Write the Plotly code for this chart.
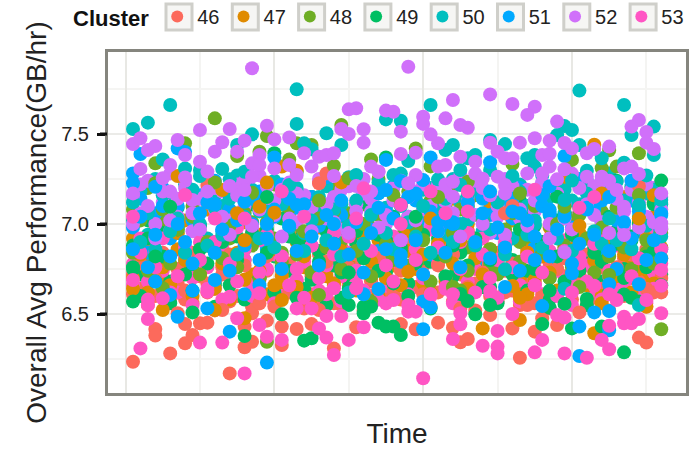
import plotly.graph_objects as go

CLUSTERS = ["46", "47", "48", "49", "50", "51", "52", "53"]
COLORS = ["#FC6A5C", "#E08B00", "#6FAE25", "#00BF63", "#00BFBF", "#00A9FF", "#D070FA", "#FF55C4"]
SLOTS = list(range(1, 73))
Y_TICKS = [6.5, 7.0, 7.5]

BASE_46 = [6.72,6.64,6.88,6.60,6.79,6.93,6.67,6.58,6.84,6.71,6.62,6.90,6.76,6.57,6.81,6.69,6.95,6.63,6.74,6.86,6.59,6.78,6.68,6.92,6.61,6.83,6.73,6.56,6.87,6.66,6.80,6.94,6.60,6.75,6.70,6.85,6.58,6.91,6.65,6.77,6.82,6.62,6.89,6.57,6.72,6.96,6.67,6.80,6.60,6.84,6.74,6.63,6.93,6.69,6.56,6.87,6.78,6.61,6.71,6.90,6.66,6.83,6.59,6.76,6.94,6.64,6.81,6.70,6.57,6.86,6.73,6.62]
BASE_47 = [6.92,7.05,6.78,6.99,6.70,7.12,6.86,7.02,6.74,6.95,7.08,6.68,6.89,7.15,6.81,7.01,6.72,6.94,7.10,6.84,6.66,7.04,6.90,6.76,7.13,6.98,6.71,6.87,7.06,6.80,6.96,7.16,6.69,6.91,7.03,6.77,7.11,6.85,6.97,6.67,7.07,6.83,6.93,7.14,6.73,7.00,6.88,6.65,7.09,6.79,6.95,7.02,6.70,6.86,7.12,6.82,6.98,6.75,7.05,6.90,6.68,7.10,6.84,7.00,6.74,6.92,7.15,6.80,6.96,6.71,7.04,6.87]
BASE_48 = [7.08,6.90,7.20,6.82,7.02,7.14,6.95,6.78,7.10,6.99,7.24,6.86,7.05,6.92,7.17,6.80,7.01,7.12,6.94,7.22,6.84,7.07,6.97,6.88,7.15,7.03,6.79,7.19,6.91,7.06,6.85,7.11,6.98,7.25,6.83,7.04,6.93,7.18,7.00,6.81,7.13,6.89,7.09,7.21,6.96,6.87,7.16,7.02,6.77,7.08,6.94,7.23,6.90,7.05,6.82,7.14,6.99,7.19,6.86,7.03,6.92,7.11,6.80,7.07,7.17,6.95,6.88,7.20,7.01,6.84,7.12,6.97]
BASE_49 = [6.88,6.72,7.02,6.80,6.95,6.68,7.09,6.84,6.75,6.99,6.90,6.66,7.05,6.78,6.93,6.86,7.11,6.70,6.97,6.82,7.03,6.74,6.91,6.64,7.07,6.85,6.96,6.77,7.00,6.69,6.89,7.12,6.81,6.94,6.73,7.04,6.87,6.67,6.98,7.08,6.79,6.92,7.01,6.71,6.84,7.10,6.76,6.95,6.65,7.06,6.88,6.80,7.13,6.74,6.99,6.90,6.70,7.02,6.83,6.94,7.09,6.78,6.87,6.68,7.04,6.96,6.75,6.91,7.00,6.82,7.11,6.72]
BASE_50 = [7.02,7.18,6.94,7.25,7.08,7.13,6.98,7.22,7.05,7.30,6.92,7.16,7.10,6.96,7.27,7.03,7.19,7.07,6.90,7.24,7.12,7.00,7.29,6.95,7.15,7.06,7.21,6.93,7.11,7.26,7.01,7.17,6.97,7.23,7.09,6.91,7.28,7.04,7.14,6.99,7.20,7.08,6.94,7.25,7.12,7.02,7.18,6.96,7.30,7.06,7.16,6.92,7.22,7.10,7.00,7.27,7.05,6.97,7.19,7.13,6.93,7.24,7.08,7.01,7.28,7.15,6.98,7.21,7.04,7.17,6.95,7.11]
BASE_51 = [6.98,7.14,6.84,7.06,7.20,6.92,7.10,6.80,7.02,7.16,6.88,7.24,6.96,7.08,6.78,7.12,7.00,7.18,6.86,7.04,7.22,6.94,7.09,6.82,7.15,6.99,7.26,6.90,7.05,6.76,7.11,7.19,6.97,6.85,7.07,7.21,6.91,7.03,7.13,7.04,6.83,7.17,7.01,6.93,7.23,7.08,6.79,7.14,7.05,6.95,7.10,7.03,7.20,7.00,6.87,7.16,7.06,6.81,7.12,6.98,7.25,6.92,7.09,6.84,7.18,7.02,6.89,7.13,6.96,7.21,7.00,6.86]
BASE_52 = [7.16,7.06,7.24,7.00,7.12,7.28,7.04,7.20,6.96,7.14,7.26,7.08,7.18,7.02,7.22,7.10,6.98,7.27,7.13,7.05,7.19,7.23,7.01,7.16,7.09,7.25,7.03,7.15,6.97,7.21,7.11,7.17,7.07,7.29,7.00,7.13,7.24,7.04,7.18,7.08,6.99,7.22,7.12,7.02,7.27,7.15,7.05,7.20,6.95,7.10,7.25,7.14,7.03,7.19,7.07,7.23,7.00,7.16,7.11,7.28,7.06,7.13,7.21,7.01,7.17,7.09,6.98,7.24,7.12,7.04,7.20,7.08]
BASE_53 = [6.78,6.92,6.68,6.85,6.74,6.96,6.62,6.82,6.70,6.90,6.76,6.64,6.87,6.72,6.98,6.80,6.66,6.91,6.75,6.83,6.60,6.94,6.69,6.79,6.88,6.63,6.77,6.95,6.71,6.84,6.67,6.89,6.73,6.81,6.65,6.93,6.76,6.61,6.86,6.70,6.97,6.78,6.64,6.83,6.90,6.68,6.75,6.92,6.62,6.80,6.87,6.72,6.66,6.95,6.79,6.61,6.85,6.74,6.91,6.69,6.82,6.77,6.63,6.94,6.71,6.88,6.67,6.84,6.60,6.96,6.73,6.78]

LATER_46 = [6.61,6.78,6.55,6.70,6.84,6.58,6.75,6.63,6.56,6.80,6.67,6.52,6.72,6.83,6.60,6.77,6.54,6.69,6.82,6.57,6.74,6.62,6.85,6.53,6.71,6.59,6.79,6.66,6.55,6.76,6.83,6.52,6.68,6.81,6.58,6.63,6.74,6.56,6.80,6.61,6.54,6.77,6.70,6.83,6.59,6.65,6.52,6.73,6.82,6.57,6.62,6.78,6.55,6.84,6.67,6.60,6.53,6.75,6.81,6.58,6.72,6.55,6.79,6.64,6.52,6.76,6.60,6.83,6.68,6.54,6.80,6.70]
LATER_47 = [6.70,6.83,6.62,6.91,6.76,6.66,6.95,6.80,6.60,6.72,6.88,6.64,6.78,6.58,6.84,6.69,6.92,6.74,6.61,6.86,6.71,6.94,6.65,6.82,6.59,6.77,6.90,6.67,6.85,6.73,6.63,6.93,6.79,6.60,6.70,6.87,6.66,6.96,6.75,6.83,6.62,6.89,6.68,6.78,6.91,6.64,6.81,6.72,6.86,6.59,6.94,6.76,6.61,6.84,6.69,6.90,6.73,6.63,6.87,6.77,6.95,6.66,6.80,6.60,6.88,6.71,6.83,6.62,6.75,6.92,6.67,6.81]
LATER_48 = [6.84,7.02,6.74,6.93,7.08,6.78,6.97,6.86,7.04,6.72,6.90,7.10,6.81,6.99,6.76,7.06,6.88,6.70,7.01,6.92,6.79,7.09,6.83,6.96,6.73,7.03,6.87,7.07,6.75,6.94,6.85,7.00,6.71,7.05,6.89,6.80,7.11,6.77,6.98,6.91,6.68,7.04,6.82,6.95,7.08,6.74,6.90,7.02,6.86,6.72,6.97,7.06,6.79,6.93,7.10,6.84,6.70,7.00,6.88,6.76,7.05,6.92,6.73,6.98,6.82,7.09,6.87,6.75,7.03,6.91,6.78,6.95]
LATER_49 = [6.75,6.60,6.92,6.68,6.82,6.56,6.97,6.72,6.63,6.86,6.78,6.54,6.90,6.66,6.80,6.58,6.95,6.70,6.84,6.62,6.76,6.93,6.59,6.87,6.69,6.79,6.55,6.89,6.73,6.64,6.96,6.81,6.57,6.74,6.91,6.67,6.85,6.60,6.78,6.94,6.53,6.83,6.71,6.88,6.61,6.77,6.92,6.65,6.80,6.56,6.86,6.72,6.97,6.63,6.75,6.90,6.58,6.82,6.68,6.94,6.74,6.55,6.84,6.79,6.62,6.89,6.70,6.93,6.57,6.76,6.85,6.66]
LATER_50 = [7.12,6.90,7.06,6.86,7.16,6.96,7.03,6.84,7.19,7.00,6.88,7.09,6.94,7.14,6.83,7.04,7.18,6.92,7.07,6.87,7.11,6.98,7.20,6.85,7.02,7.15,6.91,7.08,6.82,6.99,7.13,6.89,7.05,7.17,6.95,6.86,7.10,7.01,6.93,7.19,6.84,7.06,7.14,6.90,7.00,7.16,6.88,7.04,6.97,7.12,6.83,7.08,7.18,6.94,7.02,6.87,7.15,6.92,7.06,6.85,7.11,7.17,6.96,6.89,7.03,6.91,7.13,6.86,7.09,6.99,7.19,6.93]
LATER_51 = [6.86,7.04,6.76,6.94,7.10,6.82,7.00,6.90,6.78,7.06,7.12,6.84,6.97,6.74,7.02,6.88,7.14,6.80,6.92,7.08,6.75,6.99,6.85,7.11,6.93,6.77,7.05,6.89,7.13,6.83,7.01,6.73,6.95,7.09,6.86,7.03,6.79,7.15,6.91,6.72,7.07,6.96,6.84,7.00,6.76,7.12,6.90,7.06,6.81,6.98,6.87,7.14,6.74,7.02,6.93,7.10,6.82,6.97,7.04,6.78,6.89,7.08,6.94,7.13,6.85,6.75,7.01,6.92,7.07,6.80,6.91,7.05]
LATER_52 = [7.00,7.22,7.10,6.92,7.18,7.02,7.14,7.24,7.06,6.97,7.12,7.20,7.04,6.94,7.16,7.24,6.99,7.08,7.21,7.13,6.93,7.03,7.17,7.09,6.96,7.23,7.11,7.01,7.19,6.95,7.07,7.25,7.14,6.98,7.05,7.20,6.91,7.15,7.02,7.22,7.10,6.96,7.18,7.06,6.93,7.12,7.24,7.00,7.16,7.04,6.94,7.21,7.08,6.99,7.13,7.23,6.92,7.17,7.03,6.97,7.20,7.11,7.05,7.24,6.95,7.14,7.07,7.19,6.98,7.22,7.01,7.15]
LATER_53 = [6.66,6.84,6.58,6.76,6.92,6.62,6.71,6.87,6.55,6.80,6.64,6.90,6.58,6.78,6.68,6.86,6.60,6.73,6.94,6.56,6.82,6.66,6.75,6.59,6.88,6.70,6.61,6.83,6.57,6.93,6.74,6.63,6.85,6.58,6.77,6.68,6.91,6.55,6.80,6.72,6.60,6.87,6.65,6.56,6.75,6.95,6.62,6.83,6.70,6.59,6.90,6.76,6.57,6.82,6.66,6.73,6.92,6.60,6.85,6.55,6.78,6.68,6.89,6.58,6.74,6.62,6.94,6.71,6.81,6.56,6.64,6.86]

EDGE_T_46 = [1,4,4,6,8,8,9,10,11,13,14,16,17,17,16,19,18,21,21,23,25,26,28,31,20,7,42,37,39,44,45,46,52,53,55,58,61,69,70,54,49,70,71,45,56,11,26,27,69,52,51]
EDGE_V_46 = [6.235,6.417,6.38,6.281,6.444,6.337,6.383,6.448,6.452,6.522,6.17,6.315,6.346,6.504,6.43,6.463,6.559,6.43,6.328,6.417,6.444,6.522,6.309,6.426,6.541,6.504,6.452,6.444,6.415,6.424,6.343,6.361,6.42,6.257,6.402,6.439,6.509,6.369,6.341,6.55,6.494,6.64,6.62,6.53,6.476,7.217,7.226,7.281,7.211,7.1,7.06]
EDGE_T_47 = [5,12,16,21,20,1,16,48,53,52,54,53,63,70,64,38,7,21,23,19,29,13,18,20,15,59,63,64,71,41,69,61]
EDGE_V_47 = [6.522,6.522,6.476,6.578,6.66,6.64,6.91,6.42,6.467,6.656,6.61,6.59,6.393,6.541,6.56,6.735,7.267,7.319,7.296,7.23,7.231,7.189,7.096,7.063,7.06,7.263,7.44,7.17,7.16,7.03,7.03,6.99]
EDGE_T_48 = [12,8,19,23,18,22,15,25,28,29,12,33,4,17,4,30,26,39,60,69,65,66,64,52,41,53,42,36,69,59,46,19,5,26,33,72,65,45,44,61]
EDGE_V_48 = [7.587,7.448,7.489,7.448,7.402,7.359,7.378,7.439,7.324,7.55,7.231,7.359,7.337,7.174,7.226,7.254,7.13,7.42,7.356,7.393,7.41,7.319,7.31,7.333,7.32,7.17,7.15,7.161,7.161,7.096,7.235,6.346,6.643,6.606,6.569,6.415,6.717,6.63,6.65,6.65]
EDGE_T_49 = [20,35,19,6,72,66,58,39,1,9,21,16,24,25,34,32,32,30,33,29,35,30,1,4,37,67,56,60,62,57,59,46,45,49,47,64,67,36,57,68]
EDGE_V_49 = [7.393,7.37,7.15,7.096,7.241,7.24,7.152,7.04,6.569,6.509,6.498,6.378,6.352,6.365,6.452,6.504,6.54,6.55,6.541,6.59,6.43,6.73,6.76,6.82,6.383,6.287,6.444,6.42,6.583,6.535,6.556,6.572,6.611,6.55,6.498,6.43,6.609,6.43,6.63,6.59]
EDGE_T_50 = [1,3,6,23,23,17,27,29,35,5,13,24,25,16,14,22,31,8,10,15,41,61,67,71,68,37,59,60,58,51,49,61,44,43,64,71,38,47,46,45,54,55,55,52,36,60,42,62,70,66,45,69,72,40,59,67,30,69,51,59]
EDGE_V_50 = [7.528,7.563,7.661,7.748,7.556,7.498,7.504,7.439,7.581,7.359,7.306,7.448,7.415,7.29,7.248,7.217,7.272,7.309,7.267,7.439,7.661,7.741,7.661,7.541,7.494,7.574,7.544,7.522,7.494,7.444,7.467,7.439,7.439,7.411,7.365,7.383,7.35,7.383,7.365,7.3,7.365,7.383,7.319,7.267,7.272,7.241,7.248,7.296,7.27,7.235,7.217,7.106,7.133,7.1,7.133,7.34,6.62,6.55,6.748,6.64]
EDGE_T_51 = [2,7,8,1,1,4,35,16,23,22,12,35,34,20,19,28,49,41,59,37,40,49,68,57,56,39,62,72,52,53,57,65,44,42,6,7,14,19,11,16,34,32,4,12,9,18,40,41,40,61,61,63,65,65,51,56,65,69,60,55,37,72]
EDGE_V_51 = [7.389,7.42,7.4,7.281,7.226,7.207,7.356,7.124,7.106,7.14,7.11,7.189,7.17,7.37,7.0,7.0,7.343,7.37,7.378,7.239,7.244,7.18,7.24,7.21,7.16,7.17,7.09,7.059,7.07,7.06,7.08,7.15,7.01,7.01,6.606,6.485,6.402,6.23,6.531,6.61,6.639,6.61,6.68,6.689,6.63,6.66,6.415,6.537,6.57,6.43,6.267,6.509,6.517,6.41,6.65,6.544,6.665,6.665,6.726,6.8,6.828,6.809]
EDGE_T_52 = [1,2,3,4,17,10,14,19,7,13,16,20,22,12,15,8,18,10,6,5,2,11,17,18,17,8,20,22,23,25,24,26,27,28,29,30,31,32,30,32,35,28,14,1,33,34,31,33,6,9,11,16,38,44,49,52,55,54,58,69,68,43,40,40,45,46,37,41,70,42,49,53,55,57,59,70,71,65,62,63,60,37,39,45,47,50,51,52,56,57,42,43,57,59,67,68,69,47,48,50,51,51,54,56,58,62,64,65,66,67,72,72,39,38,43,44,44,36,59,67,72]
EDGE_V_52 = [7.444,7.476,7.411,7.433,7.865,7.522,7.528,7.546,7.467,7.454,7.463,7.47,7.481,7.402,7.402,7.383,7.383,7.346,7.328,7.254,7.306,7.291,7.337,7.328,7.263,7.259,7.309,7.328,7.272,7.319,7.393,7.374,7.383,7.393,7.528,7.637,7.643,7.526,7.5,7.452,7.63,7.267,7.211,7.17,7.319,7.29,7.211,7.18,7.18,7.133,7.18,7.189,7.874,7.689,7.72,7.667,7.652,7.606,7.569,7.578,7.541,7.587,7.596,7.556,7.55,7.535,7.513,7.498,7.511,7.448,7.452,7.452,7.476,7.463,7.45,7.452,7.417,7.43,7.393,7.417,7.42,7.389,7.396,7.374,7.346,7.402,7.365,7.365,7.383,7.39,7.319,7.328,7.319,7.304,7.309,7.319,7.278,7.28,7.252,7.263,7.217,7.17,7.281,7.28,7.248,7.263,7.263,7.24,7.189,7.096,7.17,7.004,7.272,7.226,7.22,7.235,7.152,7.624,6.843,6.939,6.976]
EDGE_T_53 = [2,3,3,10,13,15,16,19,21,27,27,26,28,30,29,32,23,25,18,5,14,11,35,31,28,1,18,40,48,50,50,50,55,56,59,62,64,65,65,67,67,68,69,72,45,45,44,58,59,52,38,39,70,72,72,49,41,63,60,65,66,55,44,36,8,21,32,31,24,1,16,12,46,37,43,41,55,46,63,61,37]
EDGE_V_53 = [6.309,6.472,6.55,6.341,6.341,6.476,6.17,6.374,6.356,6.489,6.369,6.42,6.272,6.356,6.489,6.426,6.531,6.531,6.615,6.587,6.596,6.624,6.559,6.643,6.643,6.689,6.439,6.143,6.324,6.319,6.281,6.406,6.287,6.356,6.281,6.257,6.356,6.304,6.435,6.485,6.448,6.448,6.472,6.504,6.504,6.443,6.361,6.494,6.48,6.5,6.513,6.513,6.578,6.657,6.745,6.628,6.611,6.657,6.62,6.61,6.578,6.66,6.61,6.578,7.161,7.18,7.198,7.03,7.04,7.04,7.03,7.03,7.18,7.106,7.06,7.18,7.19,7.07,7.15,7.09,7.0]

BASES = [BASE_46, BASE_47, BASE_48, BASE_49, BASE_50, BASE_51, BASE_52, BASE_53]
LATERS = [LATER_46, LATER_47, LATER_48, LATER_49, LATER_50, LATER_51, LATER_52, LATER_53]
EDGES_T = [EDGE_T_46, EDGE_T_47, EDGE_T_48, EDGE_T_49, EDGE_T_50, EDGE_T_51, EDGE_T_52, EDGE_T_53]
EDGES_V = [EDGE_V_46, EDGE_V_47, EDGE_V_48, EDGE_V_49, EDGE_V_50, EDGE_V_51, EDGE_V_52, EDGE_V_53]

W, H = 698, 449
L, R, T, B = 108, 686, 52, 393


def scatter(i, xs, ys, legend):
    return go.Scatter(
        x=xs, y=ys, mode="markers", name=CLUSTERS[i], legendgroup=CLUSTERS[i], showlegend=legend,
        marker=dict(color=COLORS[i], size=14, line=dict(width=0)),
    )


fig = go.Figure()
for i in range(8):
    fig.add_trace(scatter(i, SLOTS[:len(BASES[i])], BASES[i], True))
for i in [0, 1, 3, 2, 7, 4, 6, 5]:
    fig.add_trace(scatter(i, SLOTS[:len(LATERS[i])], LATERS[i], False))
for i in [0, 1, 2, 3, 4, 5, 6, 7]:
    fig.add_trace(scatter(i, EDGES_T[i], EDGES_V[i], False))

shapes = []
for i in range(8):
    x0 = 166 + 66.3 * i
    shapes.append(dict(type="rect", xref="paper", yref="paper",
                       x0=(x0 - L) / (R - L), x1=(x0 + 26 - L) / (R - L),
                       y0=(B - 30) / (B - T), y1=(B - 4) / (B - T),
                       line=dict(color="#cfcfca", width=3), fillcolor="#f6f6f4", layer="below"))
for tick in Y_TICKS:
    shapes.append(dict(type="line", xref="paper", yref="y",
                       x0=-8 / (R - L), x1=-1 / (R - L), y0=tick, y1=tick,
                       line=dict(color="#111111", width=3)))

fig.update_layout(
    width=W, height=H, autosize=False,
    margin=dict(l=L, r=W - R, t=T, b=H - B, pad=0, autoexpand=False),
    paper_bgcolor="white", plot_bgcolor="white",
    font=dict(family="Liberation Sans, Arial, sans-serif", color="#222222", size=20),
    shapes=shapes,
    legend=dict(
        orientation="h", x=(71 - L) / (R - L), y=(B + 3) / (B - T), xanchor="left", yanchor="top",
        bgcolor="rgba(0,0,0,0)", borderwidth=0,
        title=dict(text="<b>Cluster</b>", side="left", font=dict(size=22, color="#111111")),
        font=dict(size=20, color="#222222"), itemsizing="constant",
        entrywidth=21.3, entrywidthmode="pixels", itemwidth=30, tracegroupgap=0,
        traceorder="normal", itemclick=False, itemdoubleclick=False,
    ),
    xaxis=dict(
        range=[1 + (L - 133) / 7.44, 1 + (R - 133) / 7.44], dtick=20, tick0=0, zeroline=False,
        showticklabels=False, ticks="", showgrid=True, gridcolor="#e8e8e4", gridwidth=1.5,
        minor=dict(dtick=10, tick0=0, showgrid=True, gridcolor="#f4f4f2", gridwidth=1.5),
        showline=True, mirror=True, linecolor="#85857e", linewidth=3,
        title=dict(text="Time", font=dict(size=28, color="#222222"), standoff=30),
    ),
    yaxis=dict(
        range=[7 - (B - 224) / 180, 7 + (224 - T) / 180], dtick=0.5, tick0=6.5, tickformat=".1f",
        zeroline=False, ticks="outside", ticklen=8, tickwidth=3, tickcolor="#111111",
        tickfont=dict(size=20, color="#222222"), ticklabelstandoff=4,
        showgrid=True, gridcolor="#ebebe8", gridwidth=1.5,
        minor=dict(dtick=0.25, tick0=6.25, showgrid=True, gridcolor="#f5f5f3", gridwidth=1.5),
        showline=True, mirror=True, linecolor="#85857e", linewidth=3,
        title=dict(text="Overall Avg Performance(GB/hr)", font=dict(size=28, color="#222222"), standoff=7),
    ),
)
fig.write_html("out.html", config={"displayModeBar": False},
               post_script="document.body.style.margin='0';document.body.style.overflow='hidden';")
